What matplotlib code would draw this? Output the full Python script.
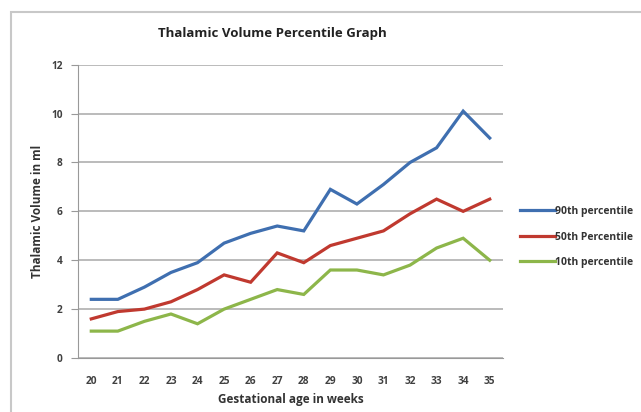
import matplotlib
matplotlib.use("Agg")
import matplotlib.pyplot as plt
from matplotlib.patches import Rectangle

weeks = [20, 21, 22, 23, 24, 25, 26, 27, 28, 29, 30, 31, 32, 33, 34, 35]
p90 = [2.4, 2.4, 2.9, 3.5, 3.9, 4.7, 5.1, 5.4, 5.2, 6.9, 6.3, 7.1, 8.0, 8.6, 10.1, 9.0]
p50 = [1.6, 1.9, 2.0, 2.3, 2.8, 3.4, 3.1, 4.3, 3.9, 4.6, 4.9, 5.2, 5.9, 6.5, 6.0, 6.5]
p10 = [1.1, 1.1, 1.5, 1.8, 1.4, 2.0, 2.4, 2.8, 2.6, 3.6, 3.6, 3.4, 3.8, 4.5, 4.9, 4.0]
series_names = ["90th percentile", "50th Percentile", "10th percentile"]
colors = ["#3F6FB0", "#C0392F", "#8DB64A"]
yticks = [0, 2, 4, 6, 8, 10, 12]

plt.rcParams['font.family'] = ['Open Sans', 'DejaVu Sans']

W, H = 641, 412
fig = plt.figure(figsize=(W / 100, H / 100), dpi=100)

# outer chart frame
fig.patches.append(Rectangle((11 / W, -0.1), 1.2, 1 - 12 / H + 0.1,
                             transform=fig.transFigure, fill=False,
                             edgecolor="#C8C8C8", linewidth=1.5))

ax = fig.add_axes([78 / W, 1 - 358 / H, (503 - 78) / W, (358 - 64.7) / H])

for vals, name, c in zip([p90, p50, p10], series_names, colors):
    ax.plot(weeks, vals, color=c, linewidth=2.3, label=name, solid_joinstyle='miter')

ax.set_xlim(19.5, 35.5)
ax.set_ylim(0, 12)
ax.set_yticks(yticks)
ax.set_xticks(weeks)
ax.set_xticklabels([str(w) for w in weeks])
ax.grid(axis='y', color="#A8A8A8", linewidth=1.1)
ax.set_axisbelow(True)
for s in ['top', 'right']:
    ax.spines[s].set_visible(False)
ax.spines['left'].set_color("#999999")
ax.spines['bottom'].set_color("#999999")
ax.tick_params(axis='y', length=5, color="#999999", labelsize=7.3, pad=6)
ax.tick_params(axis='x', length=0, labelsize=7.3, pad=13)
for lbl in ax.get_xticklabels() + ax.get_yticklabels():
    lbl.set_fontweight('bold')
    lbl.set_color("#404040")

ax.set_xlabel("Gestational age in weeks", fontsize=8.5, fontweight='bold', labelpad=4,
              color="#333333")
ax.set_ylabel("Thalamic Volume in ml", fontsize=8.5, fontweight='bold', labelpad=5,
              color="#333333")
fig.text(272 / W, 1 - 33 / H, "Thalamic Volume Percentile Graph", ha='center', va='center',
         fontsize=9.5, fontweight='bold', color="#222222")

leg = ax.legend(loc='center left', bbox_to_anchor=(511 / W, 1 - 237 / H),
                bbox_transform=fig.transFigure, frameon=False, fontsize=7.5,
                handlelength=3.3, handletextpad=0.05, labelspacing=1.4)
for t in leg.get_texts():
    t.set_fontweight('bold')
    t.set_color("#333333")

fig.savefig("out.png", dpi=100)
